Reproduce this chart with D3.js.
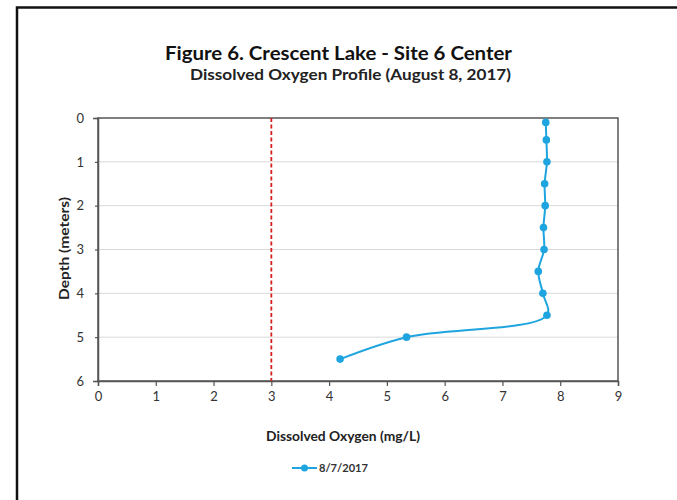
<!DOCTYPE html>
<html><head><meta charset="utf-8">
<script src="https://cdn.jsdelivr.net/npm/d3@7"></script>
<style>body{margin:0;background:#fff}svg{display:block}text{font-family:Lato,"Open Sans",sans-serif;}</style>
</head><body><div id="chart"></div>
<script>
const depths = [0.1, 0.5, 1.0, 1.5, 2.0, 2.5, 3.0, 3.5, 4.0, 4.5, 5.0, 5.5];
const oxygen = [7.75, 7.76, 7.77, 7.73, 7.74, 7.71, 7.72, 7.62, 7.70, 7.77, 5.34, 4.19];
const xTicks = [0,1,2,3,4,5,6,7,8,9];
const yTicks = [0,1,2,3,4,5,6];
const threshold = 3;
const seriesName = "8/7/2017";
const title = "Figure 6. Crescent Lake - Site 6 Center";
const subtitle = "Dissolved Oxygen Profile (August 8, 2017)";
const xTitle = "Dissolved Oxygen (mg/L)";
const yTitle = "Depth (meters)";

const W = 677, H = 500;
const svg = d3.select("#chart").append("svg").attr("width", W).attr("height", H);
svg.append("rect").attr("x",0).attr("y",0).attr("width",W).attr("height",H).attr("fill","#fff");
// outer frame
svg.append("rect").attr("x",17).attr("y",7.5).attr("width",W).attr("height",H).attr("fill","none").attr("stroke","#111").attr("stroke-width",2.5);

const x = d3.scaleLinear().domain([0,9]).range([98,618]);
const y = d3.scaleLinear().domain([0,6]).range([118,381]);

svg.append("text").attr("x",165).attr("y",60).attr("font-weight","bold").attr("font-size",19)
  .attr("textLength",347).attr("lengthAdjust","spacingAndGlyphs").attr("fill","#111").text(title);
svg.append("text").attr("x",190).attr("y",80).attr("font-weight","bold").attr("font-size",15)
  .attr("textLength",321).attr("lengthAdjust","spacingAndGlyphs").attr("fill","#222").text(subtitle);

// gridlines
svg.append("g").selectAll("line").data(yTicks.filter(d=>d>0&&d<6)).join("line")
  .attr("x1",x(0)).attr("x2",x(9)).attr("y1",d=>y(d)).attr("y2",d=>y(d))
  .attr("stroke","#d9d9d9").attr("stroke-width",1);

// plot frame
svg.append("rect").attr("x",x(0)).attr("y",y(0)).attr("width",x(9)-x(0)).attr("height",y(6)-y(0))
  .attr("fill","none").attr("stroke","#555").attr("stroke-width",1.5);

// axes
const xAxis = svg.append("g").attr("transform",`translate(0,${y(6)})`)
  .call(d3.axisBottom(x).tickValues(xTicks).tickFormat(d3.format("d")).tickSize(5).tickPadding(6));
const yAxis = svg.append("g").attr("transform",`translate(${x(0)},0)`)
  .call(d3.axisLeft(y).tickValues(yTicks).tickFormat(d3.format("d")).tickSize(5).tickPadding(9));
[xAxis,yAxis].forEach(g=>{
  g.select(".domain").attr("stroke","#555").attr("stroke-width",1.5);
  g.selectAll(".tick line").attr("stroke","#555").attr("stroke-width",1.2);
  g.selectAll(".tick text").attr("font-size",13).attr("fill","#333").attr("font-family","Lato, sans-serif");
});
yAxis.selectAll(".tick line").attr("x2",-3);

// threshold
svg.append("line").attr("x1",x(threshold)).attr("x2",x(threshold)).attr("y1",y(0)).attr("y2",y(6))
  .attr("stroke","#d42020").attr("stroke-width",1.8).attr("stroke-dasharray","4,2.5");

const data = depths.map((d,i)=>({d, o: oxygen[i]}));
const color = "#1ea5df";
const line = d3.line().x(p=>x(p.o)).y(p=>y(p.d)).curve(d3.curveCatmullRom.alpha(0.5));
svg.append("path").datum(data).attr("d",line).attr("fill","none").attr("stroke",color).attr("stroke-width",2);
svg.append("g").selectAll("circle").data(data).join("circle")
  .attr("cx",p=>x(p.o)).attr("cy",p=>y(p.d)).attr("r",3.8).attr("fill",color);

svg.append("text").attr("x",266).attr("y",441).attr("font-weight","bold").attr("font-size",14)
  .attr("textLength",154).attr("lengthAdjust","spacingAndGlyphs").attr("fill","#222").text(xTitle);
svg.append("text").attr("transform",`translate(69,300) rotate(-90)`).attr("font-weight","bold").attr("font-size",14)
  .attr("textLength",103).attr("lengthAdjust","spacingAndGlyphs").attr("fill","#222").text(yTitle);

// legend
const lg = svg.append("g").attr("transform","translate(292,468)");
lg.append("line").attr("x1",0).attr("x2",25).attr("y1",0).attr("y2",0).attr("stroke",color).attr("stroke-width",2);
lg.append("circle").attr("cx",12.5).attr("cy",0).attr("r",3.5).attr("fill",color);
lg.append("text").attr("x",27).attr("y",4).attr("font-size",11.5).attr("font-weight","bold")
  .attr("textLength",49).attr("lengthAdjust","spacingAndGlyphs").attr("fill","#333").text(seriesName);
</script></body></html>
